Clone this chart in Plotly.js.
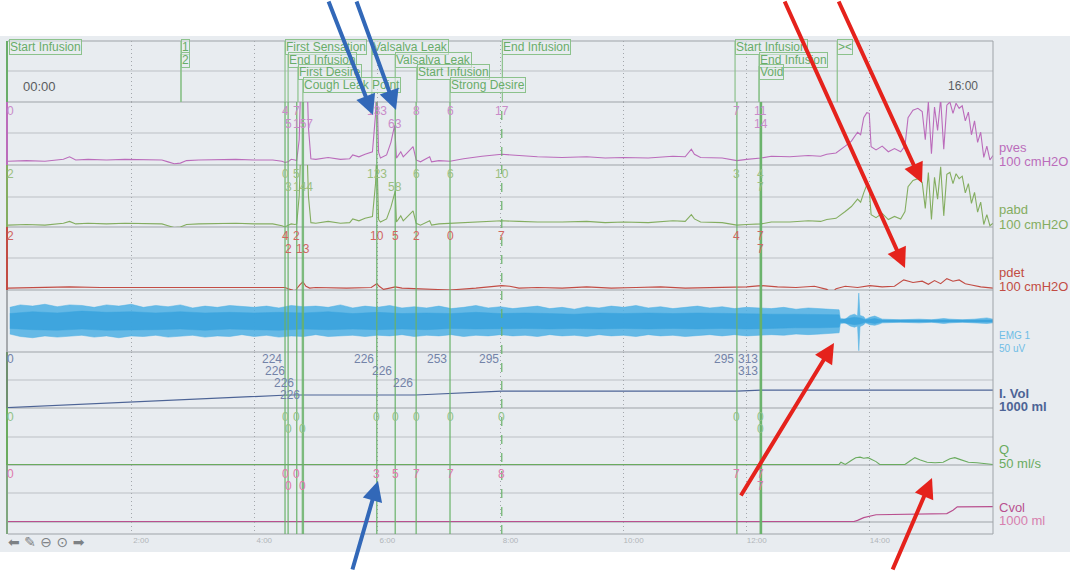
<!DOCTYPE html>
<html><head><meta charset="utf-8">
<script src="https://cdn.plot.ly/plotly-3.0.1.min.js"></script>
<style>html,body{margin:0;padding:0;background:#fff;}#chart{width:1078px;height:571px;}</style>
</head><body><div id="chart"></div>
<script>
// ================= DATA (minutes, channel units) =================
const tickTimes = [2,4,6,8,10,12,14];
const tickLabels = ['2:00','4:00','6:00','8:00','10:00','12:00','14:00'];

const pves = [[0,6],[0.3,7],[0.6,6],[0.9,9],[1.0,13],[1.1,8],[1.3,9],[1.6,8],[1.9,9],[2.2,8],[2.5,8],[2.6,5],[2.7,2],[2.8,3],[2.9,7],[3.1,8],[3.4,9],[3.7,9],[4.0,8],[4.3,8],[4.45,6],[4.5,4],[4.55,5],[4.6,9],[4.66,8],[4.69,7],[4.73,40],[4.76,150],[4.79,157],[4.82,120],[4.85,165],[4.88,60],[4.92,10],[5.0,9],[5.2,12],[5.4,9],[5.55,10],[5.6,16],[5.7,13],[5.8,17],[5.92,21],[5.97,80],[5.99,133],[6.02,20],[6.05,11],[6.15,16],[6.22,36],[6.28,63],[6.31,11],[6.38,21],[6.42,13],[6.48,19],[6.58,29],[6.63,8],[6.7,5],[6.85,13],[6.88,5],[7.0,7],[7.18,6],[7.4,10],[7.7,14],[8.02,17],[8.3,15],[8.6,13],[9.0,12],[9.4,13],[9.7,11],[10.0,12],[10.4,11],[10.8,14],[11.0,13],[11.1,25],[11.15,17],[11.25,12],[11.6,11],[11.84,7],[12.0,9],[12.23,11],[12.4,14],[12.7,13],[13.0,15],[13.2,14],[13.3,17],[13.45,19],[13.6,30],[13.7,38],[13.8,52],[13.85,48],[13.9,75],[13.95,83],[13.99,82],[14.02,29],[14.1,24],[14.2,30],[14.3,21],[14.4,26],[14.5,21],[14.57,30],[14.62,75],[14.7,87],[14.78,90],[14.85,85],[14.9,40],[14.95,100],[15.0,18],[15.05,92],[15.1,55],[15.15,105],[15.2,25],[15.25,95],[15.3,100],[15.35,82],[15.4,98],[15.45,90],[15.5,94],[15.55,70],[15.6,84],[15.65,48],[15.7,70],[15.75,36],[15.8,52],[15.85,12],[15.9,30],[15.95,8],[16.0,15]];

const pabd = [[0,3],[0.3,4],[0.6,3],[0.9,6],[1.0,9],[1.1,5],[1.3,6],[1.6,5],[1.9,6],[2.2,5],[2.5,5],[2.6,2],[2.7,-1],[2.8,0],[2.9,4],[3.1,5],[3.4,6],[3.7,6],[4.0,5],[4.3,5],[4.45,2],[4.5,0],[4.55,3],[4.6,5],[4.66,4],[4.69,5],[4.73,50],[4.76,140],[4.79,144],[4.82,110],[4.85,150],[4.88,50],[4.92,7],[5.0,6],[5.2,9],[5.4,6],[5.55,7],[5.6,13],[5.7,10],[5.8,14],[5.92,17],[5.97,70],[5.99,123],[6.02,12],[6.05,8],[6.15,13],[6.22,32],[6.29,58],[6.31,8],[6.38,18],[6.42,10],[6.48,16],[6.58,26],[6.63,6],[6.7,3],[6.85,10],[6.88,3],[7.0,5],[7.18,6],[7.4,7],[7.7,9],[8.02,10],[8.3,9],[8.6,8],[9.0,8],[9.4,9],[9.7,7],[10.0,8],[10.4,7],[10.8,10],[11.0,9],[11.1,20],[11.15,13],[11.25,8],[11.6,7],[11.84,3],[12.0,4],[12.23,5],[12.4,8],[12.7,8],[13.0,10],[13.2,9],[13.3,12],[13.45,14],[13.6,25],[13.7,33],[13.8,45],[13.85,40],[13.9,55],[13.95,68],[13.99,60],[14.02,20],[14.1,15],[14.2,22],[14.3,12],[14.4,17],[14.5,13],[14.57,25],[14.62,65],[14.7,75],[14.78,78],[14.85,72],[14.9,30],[14.95,88],[15.0,12],[15.05,80],[15.1,45],[15.15,97],[15.2,18],[15.25,85],[15.3,88],[15.35,70],[15.4,86],[15.45,78],[15.5,82],[15.55,55],[15.6,70],[15.65,38],[15.7,56],[15.75,24],[15.8,40],[15.85,4],[15.9,20],[15.95,2],[16.0,6]];

const pdet = [[0,3],[0.5,4],[1.0,5],[1.5,4],[2.0,4],[2.6,3],[3.0,4],[3.5,4],[4.0,4],[4.5,4],[4.55,2],[4.62,0],[4.66,-4],[4.69,2],[4.74,8],[4.79,13],[4.84,6],[4.9,3],[5.0,4],[5.5,3],[5.9,4],[5.99,10],[6.03,6],[6.1,1],[6.2,3],[6.29,5],[6.4,3],[6.63,2],[7.18,0],[7.6,3],[8.02,7],[8.15,6],[8.3,3],[8.6,4],[9.0,3],[9.4,5],[9.8,3],[10.2,4],[10.6,5],[11.0,3],[11.4,4],[11.84,4],[12.0,5],[12.23,7],[12.5,5],[12.8,4],[13.1,6],[13.3,1],[13.38,-5],[13.45,2],[13.6,6],[13.8,4],[14.0,7],[14.2,5],[14.4,6],[14.55,16],[14.7,12],[14.85,14],[14.95,9],[15.05,15],[15.15,10],[15.25,18],[15.35,14],[15.45,16],[15.55,10],[15.65,8],[15.8,5],[16.0,3]];

// EMG envelope: [time, upper, lower] in uV (outer extent of the band)
const emgEnvelope = [[0.03,22,-21],[0.2,26,-25],[0.4,24,-27],[0.6,27,-24],[0.8,23,-26],[1.0,26,-25],[1.2,25,-23],[1.4,22,-26],[1.6,26,-24],[1.8,24,-27],[2.0,27,-24],[2.2,22,-25],[2.4,25,-23],[2.6,23,-26],[2.8,26,-24],[3.0,21,-23],[3.2,24,-26],[3.4,22,-24],[3.6,25,-25],[3.8,23,-22],[4.0,22,-25],[4.2,24,-23],[4.4,21,-26],[4.6,25,-24],[4.8,23,-25],[5.0,24,-22],[5.2,22,-25],[5.4,26,-24],[5.6,21,-23],[5.8,24,-25],[6.0,22,-23],[6.2,25,-24],[6.4,21,-22],[6.6,23,-25],[6.8,21,-23],[7.0,24,-24],[7.2,20,-22],[7.4,22,-25],[7.6,25,-23],[7.8,21,-24],[8.0,23,-22],[8.2,20,-24],[8.4,22,-23],[8.6,24,-25],[8.8,20,-22],[9.0,22,-24],[9.2,19,-23],[9.4,23,-25],[9.6,21,-22],[9.8,24,-24],[10.0,22,-23],[10.2,25,-25],[10.4,21,-22],[10.6,23,-24],[10.8,20,-23],[11.0,22,-25],[11.2,24,-23],[11.4,21,-22],[11.6,23,-24],[11.8,20,-22],[12.0,22,-24],[12.2,21,-23],[12.4,20,-22],[12.6,22,-23],[12.8,19,-21],[13.0,21,-22],[13.2,20,-21],[13.4,19,-20],[13.5,18,-19],[13.52,4,-4],[13.6,3,-3],[13.68,9,-8],[13.75,11,-10],[13.8,8,-8],[13.82,45,-48],[13.84,9,-9],[13.9,7,-6],[13.93,3,-3],[14.0,6,-6],[14.08,8,-7],[14.15,5,-5],[14.2,3,-3],[14.5,2,-2],[14.8,3,-3],[15.0,2,-2],[15.2,4,-4],[15.3,3,-3],[15.5,2,-2],[15.7,3,-3],[15.9,5,-4],[16.0,3,-3]];
// EMG dense core of the band
const emgCore = [[0.03,12,-12],[0.4,15,-14],[0.8,13,-15],[1.2,16,-13],[1.6,14,-15],[2.0,15,-14],[2.4,13,-14],[2.8,15,-13],[3.2,13,-15],[3.6,14,-13],[4.0,13,-14],[4.4,14,-15],[4.8,13,-13],[5.2,15,-14],[5.6,12,-13],[6.0,14,-14],[6.4,12,-13],[6.8,13,-14],[7.2,12,-12],[7.6,14,-13],[8.0,12,-13],[8.4,13,-12],[8.8,12,-13],[9.2,11,-12],[9.6,13,-13],[10.0,12,-12],[10.4,13,-13],[10.8,12,-12],[11.2,13,-13],[11.6,12,-12],[12.0,12,-13],[12.4,11,-12],[12.8,11,-11],[13.2,11,-11],[13.5,10,-10],[13.52,2,-2],[13.68,5,-5],[13.75,6,-6],[13.84,5,-5],[13.93,2,-2],[14.08,4,-4],[14.2,1.5,-1.5],[16,1.5,-1.5]];

const infusedVolume = [[0,0],[4.50,224],[4.55,226],[6.63,226],[7.18,253],[8.02,295],[11.84,295],[12.23,313],[16,313]];
const flowRate = [[0,0],[13.5,0],[13.53,2],[13.6,0],[13.71,4],[13.77,6],[13.84,6.5],[13.9,5.5],[13.97,6],[14.04,4],[14.1,2.5],[14.16,0],[14.57,0],[14.65,3],[14.73,6],[14.82,4],[14.93,2],[15.06,1.5],[15.19,2],[15.3,5],[15.38,6],[15.46,4.5],[15.6,2],[15.74,1.5],[15.87,0.5],[15.95,0],[16,0]];
const voidedVolume = [[0,0],[13.74,0],[13.8,20],[13.9,70],[14.1,120],[14.5,128],[15.25,140],[15.35,200],[15.42,260],[16,265]];

// event markers (top strip)
const markerTimes  = [0,2.81,2.81,4.50,4.55,4.71,4.79,5.91,6.29,6.64,7.18,8.03,11.81,12.20,12.20,13.47];
const markerLabels = ['Start Infusion','1','2','First Sensation','End Infusion','First Desire','Cough Leak Point','Valsalva Leak','Valsalva Leak','Start Infusion','Strong Desire','End Infusion','Start Infusion','End Infusion','Void','><'];

// values read at each event line
const eventTimes  = [4.50,4.55,4.69,4.79,5.99,6.29,6.63,7.18,8.02,11.84,12.23,12.23];
const pvesAtEvent = [4,5,7,157,133,63,8,6,17,7,11,14];
const pabdAtEvent = [0,3,5,144,123,58,6,6,10,3,4,7];
const pdetAtEvent = [4,2,2,13,10,5,2,0,7,4,7,7];
const ivolAtEvent = [224,226,226,226,226,226,226,253,295,295,313,313];
const qAtEvent    = [0,0,0,0,0,0,0,0,0,0,0,0];
const cvolAtEvent = [0,0,0,0,3,5,7,7,8,7,7,7];
const startValues = {pves:0,pabd:2,pdet:2,ivol:0,q:0,cvol:0};

// ================= LAYOUT / STYLE =================
const PX = {left:8,right:993,top:41,bottom:534};
const W = PX.right-PX.left, H = PX.bottom-PX.top;
const fx = p => (p-PX.left)/W;
const fy = p => (PX.bottom-p)/H;
const panel = {ev:[41,102],pves:[102,165],pabd:[165,227],pdet:[227,290],emg:[290,352],ivol:[352,408],q:[408,465],cvol:[465,522],strip:[522,534]};
const dom = k => [fy(panel[k][1]), fy(panel[k][0])];
const FONT = 'Liberation Sans, Arial, sans-serif';
const C = {pves:'#bb6cbb',pabd:'#84ad60',pdet:'#c24c44',emgOuter:'rgba(78,176,228,0.85)',emgCore:'rgba(58,163,221,0.9)',ivol:'#4d6496',q:'#6aab5e',cvol:'#b9508f',
           pvesL:'#c98bc9',pabdL:'#9cbf7f',pdetL:'#d0665f',ivolL:'#7383a8',qL:'#8fc286',cvolL:'#df78ab',
           ev:'#69ad69',evBorder:'#8cc28c',line:'rgba(105,178,105,0.85)',border:'#9ea3a8',mid:'#bcc0c5'};

const xy = arr => ({x:arr.map(d=>d[0]), y:arr.map(d=>d[1])});
const band = arr => ({x:arr.map(d=>d[0]).concat(arr.map(d=>d[0]).reverse()), y:arr.map(d=>d[1]).concat(arr.map(d=>d[2]).reverse())});
const traces = [];
traces.push({x:[0],y:[0],mode:'none',yaxis:'y'});
traces.push({x:[0],y:[0],mode:'none',yaxis:'y9'});
traces.push(Object.assign(band(emgEnvelope),{mode:'lines',fill:'toself',fillcolor:C.emgOuter,line:{color:C.emgOuter,width:0.6},yaxis:'y5'}));
traces.push(Object.assign(band(emgCore),{mode:'lines',fill:'toself',fillcolor:C.emgCore,line:{color:C.emgCore,width:0.5},yaxis:'y5'}));
traces.push(Object.assign(xy(pves),{mode:'lines',line:{color:C.pves,width:1.1},yaxis:'y2'}));
traces.push(Object.assign(xy(pabd),{mode:'lines',line:{color:C.pabd,width:1.1},yaxis:'y3'}));
traces.push(Object.assign(xy(pdet),{mode:'lines',line:{color:C.pdet,width:1.1},yaxis:'y4'}));
traces.push(Object.assign(xy(infusedVolume),{mode:'lines',line:{color:C.ivol,width:1.2},yaxis:'y6'}));
traces.push(Object.assign(xy(flowRate),{mode:'lines',line:{color:C.q,width:1.1},yaxis:'y7'}));
traces.push(Object.assign(xy(voidedVolume),{mode:'lines',line:{color:C.cvol,width:1.2},yaxis:'y8'}));
traces.forEach(t=>{t.xaxis='x';t.hoverinfo='skip';t.showlegend=false;});

function yax(k, range, color){
  return {domain:dom(k),range:range,anchor:'x',showgrid:false,zeroline:false,showticklabels:false,ticks:'',
    showline:true,linecolor:color,linewidth:2,fixedrange:true};
}
const layout = {
  width:1078,height:571,margin:{l:PX.left,r:1078-PX.right,t:PX.top,b:571-PX.bottom},
  paper_bgcolor:'#ffffff',plot_bgcolor:'rgba(0,0,0,0)',showlegend:false,hovermode:false,
  font:{family:FONT},
  xaxis:{range:[0,16],domain:[0,1],anchor:'y9',tickmode:'array',tickvals:tickTimes,ticktext:tickLabels,
    showgrid:true,gridcolor:'#a3a7ac',griddash:'1px,3px',gridwidth:1,zeroline:false,showline:false,ticks:'',
    tickfont:{size:8,color:'#b2b6ba',family:FONT},ticklabelshift:10,fixedrange:true},
  yaxis:yax('ev',[0,1],C.ev),
  yaxis2:yax('pves',[0,100],C.pves),
  yaxis3:yax('pabd',[0,100],C.pabd),
  yaxis4:yax('pdet',[0,100],C.pdet),
  yaxis5:yax('emg',[-50,50],'#a6aaae'),
  yaxis6:yax('ivol',[-8,1000],'#6f8f6f'),
  yaxis7:yax('q',[-0.5,50],C.q),
  yaxis8:yax('cvol',[-8,1000],'#7fa67f'),
  yaxis9:yax('strip',[0,1],'#7fa67f'),
  shapes:[],annotations:[]
};
const S = layout.shapes, A = layout.annotations;
S.push({type:'rect',xref:'paper',yref:'paper',x0:fx(0),x1:fx(1070),y0:fy(552),y1:fy(36),fillcolor:'#e8ecf0',line:{width:0},layer:'below'});
[41,102,165,227,290,352,408,465,522,534].forEach(p=>S.push({type:'line',xref:'paper',yref:'paper',x0:0,x1:1,y0:fy(p),y1:fy(p),line:{color:C.border,width:1},layer:'below'}));
[71,133,197,258,380,437,493].forEach(p=>S.push({type:'line',xref:'paper',yref:'paper',x0:0,x1:1,y0:fy(p),y1:fy(p),line:{color:C.mid,width:1},layer:'below'}));
S.push({type:'line',xref:'paper',yref:'paper',x0:1,x1:1,y0:0,y1:1,line:{color:C.border,width:1}});

const heavy = [3,10,11];
eventTimes.forEach((t,i)=>{
  S.push({type:'line',xref:'x',yref:'paper',x0:t,x1:t,y0:0,y1:fy(panel.pves[0]),
    line:{color:C.line,width:heavy.includes(i)?2.4:1.4,dash:(i===8)?'dash':'solid'}});
});
const rowPx = [47,60,72,85];
const rowTop = [41,54,66,79];
const markerRows = [1,1,2,1,2,3,4,1,2,3,4,1,1,2,3,1];
markerTimes.forEach((t,i)=>{
  const r = markerRows[i]-1;
  if (t>0) S.push({type:'line',xref:'x',yref:'paper',x0:t,x1:t,y0:fy(102),y1:fy(rowTop[r]),line:{color:C.evBorder,width:1.2}});
  A.push({xref:'x',yref:'paper',x:t,y:fy(rowPx[r]),xanchor:'left',yanchor:'middle',xshift:t===0?1:0,text:markerLabels[i],showarrow:false,
    font:{size:12,color:C.ev,family:FONT},bordercolor:C.evBorder,borderwidth:1,borderpad:0,bgcolor:'rgba(232,236,240,0.55)'});
});
A.push({xref:'paper',yref:'paper',x:fx(21),y:fy(86),xanchor:'left',yanchor:'middle',text:'00:00',showarrow:false,font:{size:13,color:'#5a5d60',family:FONT}});
A.push({xref:'paper',yref:'paper',x:fx(980),y:fy(86),xanchor:'right',yanchor:'middle',text:'16:00',showarrow:false,font:{size:12,color:'#5a5d60',family:FONT}});

function valueLabels(vals, rows, rowsY, color, anchor, start){
  vals.forEach((v,i)=>A.push({xref:'x',yref:'paper',x:eventTimes[i],y:fy(rowsY[rows[i]-1]),xanchor:anchor,yanchor:'middle',
    xshift:anchor==='right'?-1:0,text:String(v),showarrow:false,font:{size:12,color:color,family:FONT}}));
  A.push({xref:'paper',yref:'paper',x:fx(10),y:fy(rowsY[0]),xanchor:'center',yanchor:'middle',text:String(start),showarrow:false,font:{size:12,color:color,family:FONT}});
}
const r2a = [1,2,1,2,1,2,1,1,1,1,1,2];
const r2b = [1,2,1,2,1,1,1,1,1,1,1,2];
const r4  = [1,2,3,4,1,2,3,1,1,1,1,2];
valueLabels(pvesAtEvent, r2a, [111,124], C.pvesL, 'center', startValues.pves);
valueLabels(pabdAtEvent, r2a, [174,187], C.pabdL, 'center', startValues.pabd);
valueLabels(pdetAtEvent, r2b, [236,249], C.pdetL, 'center', startValues.pdet);
valueLabels(ivolAtEvent, r4, [359,371,383,395], C.ivolL, 'right', startValues.ivol);
valueLabels(qAtEvent, r2b, [417,429], C.qL, 'center', startValues.q);
valueLabels(cvolAtEvent, r2b, [474,486], C.cvolL, 'center', startValues.cvol);

const chan = [['pves',147,C.pves,13,false],['100 cmH2O',161,C.pves,13,false],['pabd',210,C.pabd,13,false],['100 cmH2O',224,C.pabd,13,false],
  ['pdet',272,C.pdet,13,false],['100 cmH2O',286,C.pdet,13,false],['EMG 1',335,'#6fbde6',10,false],['50 uV',348,'#6fbde6',10,false],
  ['I. Vol',393,C.ivol,13,true],['1000 ml',406,C.ivol,13,true],['Q',449,C.q,13,false],['50 ml/s',463,C.q,13,false],
  ['Cvol',507,C.cvol,13,false],['1000 ml',520,'#d77fae',13,false]];
chan.forEach(c=>A.push({xref:'paper',yref:'paper',x:fx(997),y:fy(c[1]),xanchor:'left',yanchor:'middle',showarrow:false,
  text:c[4]?'<b>'+c[0]+'</b>':c[0],font:{size:c[3],color:c[2],family:FONT}}));
A.push({xref:'paper',yref:'paper',x:fx(6),y:fy(542),xanchor:'left',yanchor:'middle',showarrow:false,text:'⬅ ✎ ⊖ ⊙ ➡',font:{size:14,color:'#7d8185',family:'DejaVu Sans'}});

const RED='#e5221c', BLUE='#3268b8';
const arrows = [[[373,115],[328,-4],BLUE],[[396,110],[356,-4],BLUE],[[378,481],[352,575],BLUE],
  [[905,268],[784,-4],RED],[[922,183],[838,-4],RED],[[834,343],[740,497],RED],[[932,478],[892,575],RED]];
arrows.forEach(a=>A.push({xref:'paper',yref:'paper',x:fx(a[0][0]),y:fy(a[0][1]),axref:'pixel',ayref:'pixel',
  ax:a[1][0]-a[0][0],ay:a[1][1]-a[0][1],text:'',showarrow:true,arrowhead:2,arrowsize:1,arrowwidth:4,arrowcolor:a[2],standoff:0}));

Plotly.newPlot('chart',traces,layout,{staticPlot:true,displayModeBar:false});
</script></body></html>
